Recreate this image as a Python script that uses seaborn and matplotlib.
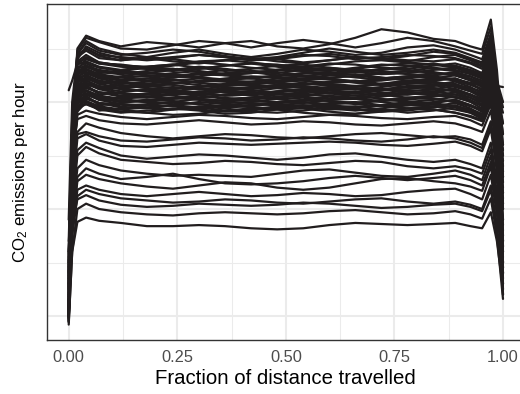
import numpy as np
import pandas as pd
import matplotlib
matplotlib.use("Agg")
import matplotlib.pyplot as plt
import seaborn as sns

# ---- data (arbitrary emission units) ----
fractions = [0.0, 0.008, 0.02, 0.04, 0.07, 0.12, 0.18, 0.24, 0.30, 0.36, 0.42, 0.48,
             0.54, 0.60, 0.66, 0.72, 0.78, 0.84, 0.89, 0.925, 0.952, 0.972, 0.986, 1.0]

upper_curves = [
    [130, 270, 350, 362, 357, 352, 356, 354, 351, 355, 357, 352, 350, 354, 360, 368, 365, 359, 357, 352, 349, 377, 330, 260],
    [115, 255, 348, 360, 356, 350, 349, 353, 357, 355, 351, 355, 358, 355, 351, 355, 360, 357, 352, 348, 345, 370, 320, 230],
    [160, 285, 345, 357, 350, 345, 342, 346, 349, 345, 342, 345, 349, 347, 344, 346, 351, 353, 349, 344, 340, 364, 312, 270],
    [105, 245, 340, 352, 346, 341, 339, 341, 344, 342, 339, 340, 343, 345, 342, 340, 343, 347, 345, 340, 336, 360, 305, 190],
    [135, 265, 342, 350, 343, 339, 341, 338, 336, 339, 341, 338, 336, 339, 342, 340, 338, 342, 344, 339, 334, 357, 310, 300],
    [190, 300, 345, 355, 348, 344, 346, 349, 347, 343, 340, 342, 346, 350, 347, 344, 346, 349, 346, 341, 337, 362, 315, 314],
]

band_curves = [
    [105, 240, 330, 340, 336, 333, 331, 334, 337, 335, 332, 330, 333, 336, 335, 332, 331, 334, 336, 332, 327, 350, 320, 300],
    [120, 260, 335, 338, 333, 330, 333, 335, 332, 329, 331, 334, 335, 332, 329, 330, 333, 336, 333, 328, 325, 345, 300, 250],
    [98, 230, 326, 336, 332, 329, 327, 330, 333, 331, 328, 327, 330, 332, 330, 327, 329, 332, 330, 326, 322, 342, 290, 200],
    [140, 270, 332, 333, 328, 326, 329, 331, 328, 325, 327, 330, 329, 326, 328, 331, 330, 327, 326, 324, 320, 340, 305, 280],
    [110, 250, 325, 334, 330, 327, 325, 324, 327, 330, 328, 325, 324, 327, 330, 329, 326, 325, 328, 324, 318, 338, 285, 170],
    [125, 255, 329, 331, 326, 323, 324, 327, 329, 326, 323, 324, 327, 328, 325, 322, 324, 327, 325, 321, 317, 336, 300, 260],
    [100, 235, 322, 330, 325, 321, 320, 323, 326, 325, 322, 320, 322, 325, 326, 323, 320, 322, 325, 320, 314, 333, 280, 150],
    [150, 275, 327, 328, 323, 320, 322, 325, 323, 320, 319, 322, 324, 322, 319, 320, 323, 324, 321, 318, 315, 332, 295, 240],
    [108, 245, 318, 327, 322, 318, 317, 320, 322, 320, 317, 318, 321, 322, 319, 316, 318, 321, 322, 317, 311, 330, 275, 130],
    [130, 260, 322, 325, 320, 317, 319, 321, 318, 315, 316, 319, 320, 317, 315, 317, 320, 319, 316, 313, 310, 328, 290, 220],
    [95, 225, 315, 324, 319, 315, 314, 317, 320, 319, 316, 314, 316, 319, 320, 317, 314, 316, 319, 314, 308, 327, 270, 160],
    [160, 280, 319, 322, 317, 313, 315, 318, 316, 312, 313, 316, 318, 315, 312, 314, 317, 318, 314, 310, 306, 325, 288, 230],
    [112, 240, 311, 320, 315, 312, 310, 312, 315, 314, 311, 309, 311, 314, 315, 312, 310, 312, 315, 310, 304, 323, 268, 140],
    [135, 262, 316, 318, 313, 310, 312, 314, 312, 309, 310, 313, 314, 311, 309, 311, 314, 313, 310, 307, 303, 321, 285, 210],
    [100, 232, 308, 317, 312, 308, 307, 310, 313, 311, 308, 307, 309, 312, 312, 309, 307, 309, 312, 307, 301, 319, 265, 180],
    [170, 285, 312, 314, 309, 306, 308, 311, 309, 306, 307, 310, 311, 308, 306, 308, 311, 310, 307, 304, 300, 318, 280, 255],
    [118, 248, 305, 314, 309, 305, 304, 307, 310, 309, 306, 304, 306, 309, 310, 307, 304, 306, 309, 304, 298, 316, 262, 125],
    [145, 268, 309, 311, 306, 303, 305, 308, 306, 303, 304, 307, 308, 305, 303, 305, 308, 307, 304, 301, 297, 315, 278, 200],
    [104, 236, 301, 310, 305, 301, 300, 303, 306, 304, 301, 300, 302, 305, 306, 303, 300, 302, 305, 300, 294, 312, 258, 145],
    [128, 256, 306, 308, 303, 300, 302, 304, 302, 299, 300, 303, 304, 301, 299, 301, 304, 303, 300, 297, 293, 311, 275, 235],
    [96, 228, 298, 307, 302, 298, 297, 300, 303, 301, 298, 297, 299, 302, 303, 300, 297, 299, 302, 297, 291, 309, 255, 165],
    [155, 272, 302, 304, 299, 296, 298, 300, 298, 295, 296, 299, 300, 297, 295, 297, 300, 299, 296, 293, 289, 307, 272, 215],
    [114, 244, 295, 304, 299, 295, 294, 297, 300, 298, 295, 294, 296, 299, 300, 297, 294, 296, 299, 294, 288, 306, 252, 135],
    [138, 264, 299, 301, 296, 293, 295, 297, 295, 292, 293, 296, 297, 294, 292, 294, 297, 296, 293, 290, 286, 304, 270, 245],
    [102, 234, 291, 300, 295, 291, 290, 293, 296, 294, 291, 290, 292, 295, 296, 293, 290, 292, 295, 290, 284, 302, 250, 190],
    [148, 266, 296, 298, 293, 290, 292, 294, 292, 289, 290, 293, 294, 291, 289, 291, 294, 293, 290, 287, 283, 301, 268, 225],
    [311, 320, 336, 342, 337, 334, 331, 329, 331, 334, 336, 333, 330, 329, 332, 335, 334, 331, 329, 327, 324, 346, 310, 290],
    [122, 252, 313, 316, 314, 316, 313, 309, 307, 310, 314, 316, 313, 309, 308, 311, 315, 316, 312, 306, 302, 322, 283, 205],
    [118, 250, 338, 344, 337, 334, 333, 335, 338, 339, 337, 334, 333, 335, 338, 339, 337, 335, 334, 330, 326, 348, 312, 270],
    [142, 262, 336, 341, 336, 335, 332, 330, 331, 334, 336, 335, 332, 330, 331, 334, 336, 335, 332, 329, 324, 344, 305, 235],
    [103, 238, 332, 337, 327, 329, 332, 331, 328, 326, 327, 330, 332, 331, 328, 326, 327, 330, 332, 327, 322, 341, 295, 175],
    [126, 252, 329, 333, 329, 328, 325, 323, 324, 327, 329, 328, 325, 323, 324, 327, 329, 328, 325, 321, 316, 337, 292, 255],
    [99, 232, 326, 331, 322, 324, 327, 326, 323, 321, 322, 325, 327, 326, 323, 321, 322, 325, 327, 322, 317, 335, 285, 145],
    [152, 270, 324, 328, 324, 323, 320, 318, 319, 322, 324, 323, 320, 318, 319, 322, 324, 323, 320, 316, 312, 331, 290, 245],
    [109, 242, 321, 326, 317, 319, 322, 321, 318, 316, 317, 320, 322, 321, 318, 316, 317, 320, 322, 317, 312, 330, 278, 165],
    [137, 259, 319, 323, 319, 318, 315, 313, 314, 317, 319, 318, 315, 313, 314, 317, 319, 318, 315, 311, 307, 326, 286, 225],
    [97, 229, 316, 321, 312, 314, 317, 316, 313, 311, 312, 315, 317, 316, 313, 311, 312, 315, 317, 312, 306, 324, 272, 120],
    [158, 276, 314, 318, 314, 313, 310, 308, 309, 312, 314, 313, 310, 308, 309, 312, 314, 313, 310, 306, 302, 321, 284, 250],
    [106, 238, 311, 316, 307, 309, 312, 311, 308, 306, 307, 310, 312, 311, 308, 306, 307, 310, 312, 307, 301, 320, 268, 185],
    [133, 258, 309, 313, 309, 308, 305, 303, 304, 307, 309, 308, 305, 303, 304, 307, 309, 308, 305, 301, 297, 316, 280, 215],
    [101, 233, 306, 311, 302, 304, 307, 306, 303, 301, 302, 305, 307, 306, 303, 301, 302, 305, 307, 302, 296, 314, 262, 140],
    [146, 266, 304, 308, 304, 303, 300, 298, 299, 302, 304, 303, 300, 298, 299, 302, 304, 303, 300, 296, 292, 311, 276, 240],
    [111, 240, 301, 306, 297, 299, 302, 301, 298, 296, 297, 300, 302, 301, 298, 296, 297, 300, 302, 297, 291, 309, 258, 170],
    [127, 254, 299, 303, 299, 298, 295, 293, 294, 297, 299, 298, 295, 293, 294, 297, 299, 298, 295, 291, 287, 306, 270, 205],
    [99, 230, 296, 301, 292, 294, 297, 296, 293, 291, 292, 295, 297, 296, 293, 291, 292, 295, 297, 292, 286, 304, 254, 150],
    [141, 262, 294, 298, 294, 293, 290, 288, 289, 292, 294, 293, 290, 288, 289, 292, 294, 293, 290, 286, 282, 300, 266, 230],
    [124, 256, 342, 348, 341, 339, 342, 340, 337, 339, 341, 340, 337, 339, 342, 341, 339, 338, 340, 336, 331, 354, 314, 280],
    [150, 272, 344, 350, 344, 342, 340, 342, 344, 342, 339, 341, 344, 343, 340, 342, 344, 343, 341, 337, 333, 357, 318, 295],
]

lower_curves = [
    [110, 240, 288, 292, 289, 286, 284, 286, 288, 287, 285, 284, 286, 288, 287, 285, 284, 286, 287, 283, 278, 298, 262, 250],
    [125, 250, 284, 287, 283, 280, 279, 281, 283, 281, 279, 280, 282, 281, 279, 278, 280, 282, 280, 276, 272, 292, 255, 200],
    [100, 225, 272, 280, 276, 271, 268, 266, 268, 270, 269, 267, 266, 268, 270, 271, 269, 267, 268, 265, 260, 282, 245, 150],
    [140, 245, 270, 272, 268, 264, 263, 265, 267, 266, 264, 265, 267, 266, 264, 263, 265, 268, 266, 262, 257, 279, 240, 230],
    [95, 215, 266, 270, 264, 259, 258, 260, 262, 261, 260, 261, 262, 263, 262, 260, 259, 261, 263, 259, 254, 275, 235, 120],
    [115, 210, 255, 262, 257, 250, 247, 249, 251, 250, 248, 246, 248, 251, 252, 249, 246, 244, 246, 242, 238, 262, 225, 210],
    [105, 200, 250, 258, 252, 246, 244, 242, 243, 245, 244, 242, 241, 243, 245, 244, 240, 238, 240, 237, 233, 256, 215, 160],
    [120, 195, 238, 246, 241, 236, 233, 231, 232, 231, 230, 233, 236, 237, 234, 231, 230, 233, 236, 232, 227, 250, 210, 190],
    [98, 180, 230, 238, 233, 228, 230, 233, 228, 224, 223, 224, 226, 229, 231, 229, 227, 229, 231, 227, 222, 244, 205, 140],
    [110, 185, 226, 232, 228, 224, 221, 219, 222, 225, 224, 220, 218, 220, 224, 228, 229, 226, 224, 221, 217, 240, 200, 170],
    [108, 178, 218, 222, 218, 214, 212, 214, 216, 214, 212, 213, 215, 214, 212, 213, 216, 218, 219, 214, 209, 232, 195, 155],
    [102, 175, 212, 218, 214, 210, 208, 206, 207, 209, 208, 206, 205, 207, 209, 210, 207, 205, 207, 204, 200, 222, 185, 130],
    [130, 185, 209, 213, 208, 204, 202, 203, 205, 204, 203, 204, 206, 205, 203, 201, 202, 204, 205, 202, 198, 218, 182, 175],
    [94, 160, 200, 205, 200, 197, 195, 194, 196, 197, 196, 195, 196, 198, 199, 197, 195, 196, 198, 195, 191, 210, 175, 116],
    [92, 160, 188, 192, 189, 187, 184, 184, 185, 184, 182, 181, 182, 185, 187, 186, 185, 186, 187, 184, 182, 197, 170, 125],
]

x_ticks = [0.0, 0.25, 0.50, 0.75, 1.00]
x_tick_labels = ["0.00", "0.25", "0.50", "0.75", "1.00"]
y_major = [100, 200, 300]
y_minor = [150, 250, 350]

# ---- tidy table ----
rows = []
trip = 0
for group in (upper_curves, band_curves, lower_curves):
    for curve in group:
        for f, v in zip(fractions, curve):
            rows.append((trip, f, v))
        trip += 1
df = pd.DataFrame(rows, columns=["trip", "fraction", "co2"])

# ---- style ----
sns.set_theme(style="white")
plt.rcParams["font.family"] = ["Liberation Sans", "DejaVu Sans"]
plt.rcParams["mathtext.fontset"] = "custom"
plt.rcParams["mathtext.rm"] = "Liberation Sans"
plt.rcParams["mathtext.it"] = "Liberation Sans:italic"

W, H = 520, 394
fig = plt.figure(figsize=(W / 100, H / 100), dpi=100)
fig.patch.set_facecolor("white")
ax = fig.add_axes([47 / W, 1 - 340 / H, 477.7 / W, 336 / H])
ax.set_facecolor("white")

sns.lineplot(data=df, x="fraction", y="co2", units="trip", estimator=None,
             color="#211d1e", linewidth=1.6, sort=False, legend=False, ax=ax)
for ln in ax.get_lines():
    ln.set_solid_joinstyle("round")

ax.set_xlim(-0.05, 1.05)
ax.set_ylim(77.6, 391.6)

ax.set_xticks(x_ticks)
ax.set_xticklabels(x_tick_labels)
ax.set_xticks([0.125, 0.375, 0.625, 0.875], minor=True)
ax.set_yticks(y_major)
ax.set_yticks(y_minor, minor=True)

ax.grid(which="major", color="#EBEBEB", linewidth=1.5)
ax.grid(which="minor", color="#EBEBEB", linewidth=0.75)
ax.set_axisbelow(True)

ax.tick_params(axis="y", which="both", length=0, labelleft=False)
ax.tick_params(axis="x", which="minor", length=0)
ax.tick_params(axis="x", which="major", length=4, width=1.6, color="#333333",
               pad=3, labelsize=11.8, labelcolor="#4D4D4D")

for s in ax.spines.values():
    s.set_visible(True)
    s.set_color("#333333")
    s.set_linewidth(1.0)

ax.set_xlabel("Fraction of distance travelled", fontsize=14.7, color="black", labelpad=3)
ax.set_ylabel(r"CO$_\mathrm{2}$ emissions per hour", fontsize=12.2, color="black")
ax.yaxis.set_label_coords(-0.035, 0.5)

fig.savefig("out.png", dpi=100, facecolor="white")
